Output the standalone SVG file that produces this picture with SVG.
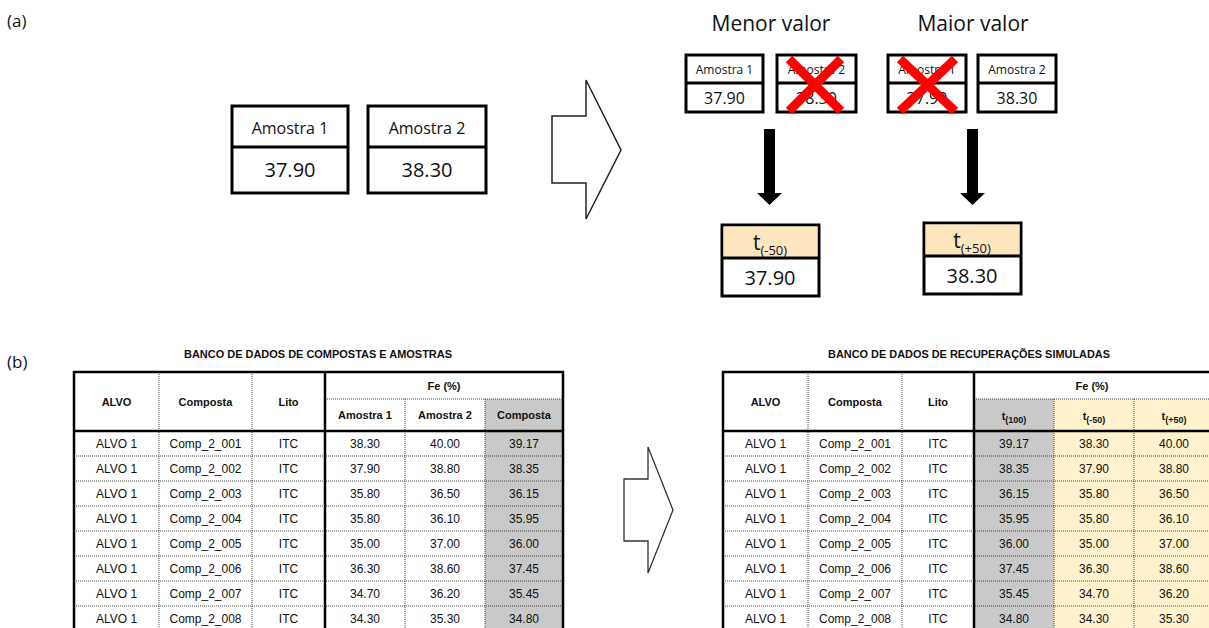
<svg xmlns="http://www.w3.org/2000/svg" width="1209" height="628" viewBox="0 0 1209 628">
<style>
.lbl{font-family:"Open Sans","Liberation Sans",sans-serif;fill:#111}
.box{fill:#fff;stroke:#000;stroke-width:3}
.div{stroke:#000;stroke-width:3}
.hdr{fill:#fce6be}
.x{stroke:#f00;stroke-width:9;stroke-linecap:butt}
.tb{font-family:"Liberation Sans",Arial,sans-serif;fill:#111;font-size:12px;text-anchor:middle}
.th{font-family:"Liberation Sans",Arial,sans-serif;fill:#111;font-size:11px;font-weight:bold;text-anchor:middle}
.dot{stroke:#444;stroke-width:1;stroke-dasharray:1 1;fill:none}
.thick{stroke:#000;stroke-width:2.5;fill:none}
.gray{fill:#c9c9c9}
.yel{fill:#fff2cc}
</style>
<rect width="1209" height="628" fill="#fff"/>
<text class="lbl" x="7" y="27" font-size="17">(a)</text>
<text class="lbl" x="7" y="368" font-size="17">(b)</text>

<g id="amostra1">
<rect class="box" x="232" y="106" width="116" height="87"/>
<line class="div" x1="232" y1="147" x2="348" y2="147"/>
<text class="lbl" x="290" y="134" font-size="16" text-anchor="middle">Amostra 1</text>
<text class="lbl" x="290" y="177" font-size="20" text-anchor="middle">37.90</text>
</g>
<g id="amostra2">
<rect class="box" x="368" y="106" width="118" height="87"/>
<line class="div" x1="368" y1="147" x2="486" y2="147"/>
<text class="lbl" x="427" y="134" font-size="16" text-anchor="middle">Amostra 2</text>
<text class="lbl" x="427" y="177" font-size="20" text-anchor="middle">38.30</text>
</g>

<text class="lbl" x="771" y="31" font-size="21" text-anchor="middle">Menor valor</text>
<text class="lbl" x="973" y="31" font-size="21" text-anchor="middle">Maior valor</text>

<g id="menor-a1">
<rect class="box" x="686" y="55" width="77" height="57"/>
<line class="div" x1="686" y1="83" x2="763" y2="83"/>
<text class="lbl" x="724.5" y="74" font-size="12" text-anchor="middle">Amostra 1</text>
<text class="lbl" x="724.5" y="104" font-size="16" text-anchor="middle">37.90</text>
</g>
<g id="menor-a2">
<rect class="box" x="777" y="55" width="79" height="57"/>
<line class="div" x1="777" y1="83" x2="856" y2="83"/>
<text class="lbl" x="816.5" y="74" font-size="12" text-anchor="middle">Amostra 2</text>
<text class="lbl" x="816.5" y="104" font-size="16" text-anchor="middle">38.30</text>
<line class="x" x1="789" y1="59" x2="841" y2="111"/>
<line class="x" x1="841" y1="59" x2="789" y2="111"/>
</g>
<g id="maior-a1">
<rect class="box" x="888" y="55" width="78" height="57"/>
<line class="div" x1="888" y1="83" x2="966" y2="83"/>
<text class="lbl" x="927" y="74" font-size="12" text-anchor="middle">Amostra 1</text>
<text class="lbl" x="927" y="104" font-size="16" text-anchor="middle">37.90</text>
<line class="x" x1="900" y1="59" x2="955" y2="111"/>
<line class="x" x1="955" y1="59" x2="900" y2="111"/>
</g>
<g id="maior-a2">
<rect class="box" x="978" y="55" width="78" height="57"/>
<line class="div" x1="978" y1="83" x2="1056" y2="83"/>
<text class="lbl" x="1017" y="74" font-size="12" text-anchor="middle">Amostra 2</text>
<text class="lbl" x="1017" y="104" font-size="16" text-anchor="middle">38.30</text>
</g>

<g id="t-50">
<rect class="box" x="722" y="225" width="97" height="71"/>
<rect class="hdr" x="723.5" y="226.5" width="94" height="31"/>
<line class="div" x1="722" y1="258" x2="819" y2="258"/>
<text class="lbl" x="770" y="250" font-size="21" text-anchor="middle">t<tspan font-size="13" dy="5">(-50)</tspan></text>
<text class="lbl" x="770" y="285" font-size="20" text-anchor="middle">37.90</text>
</g>
<g id="t+50">
<rect class="box" x="924" y="223" width="97" height="71"/>
<rect class="hdr" x="925.5" y="224.5" width="94" height="31"/>
<line class="div" x1="924" y1="256" x2="1021" y2="256"/>
<text class="lbl" x="972" y="248" font-size="21" text-anchor="middle">t<tspan font-size="13" dy="5">(+50)</tspan></text>
<text class="lbl" x="972" y="283" font-size="20" text-anchor="middle">38.30</text>
</g>

<g id="connectors">
<polygon points="552,116 586,116 586,80 621,150 586,219 586,183 552,183" fill="#fff" stroke="#222" stroke-width="1.5" stroke-linejoin="miter"/>
<polygon points="764,129 775,129 775,193 782,193 769.5,205 757,193 764,193" fill="#000"/>
<polygon points="967,129 978,129 978,193 985,193 972.5,205 960,193 967,193" fill="#000"/>
<polygon points="624,479 648,479 648,447 673,510 648,573 648,541 624,541" fill="#fff" stroke="#333" stroke-width="1.3"/>
</g>

<g id="table-left">
<text class="th" x="318" y="358" textLength="268" lengthAdjust="spacingAndGlyphs">BANCO DE DADOS DE COMPOSTAS E AMOSTRAS</text>
<rect class="gray" x="485" y="399" width="78" height="240"/>
<line class="dot" x1="159" y1="372" x2="159" y2="640"/>
<line class="dot" x1="252" y1="372" x2="252" y2="640"/>
<line class="dot" x1="405" y1="399" x2="405" y2="640"/>
<line class="dot" x1="485" y1="399" x2="485" y2="640"/>
<line class="dot" x1="325" y1="399" x2="563" y2="399"/>
<g class="dot">
<line x1="74" y1="456" x2="563" y2="456"/><line x1="74" y1="481" x2="563" y2="481"/><line x1="74" y1="506" x2="563" y2="506"/><line x1="74" y1="531" x2="563" y2="531"/><line x1="74" y1="556" x2="563" y2="556"/><line x1="74" y1="581" x2="563" y2="581"/><line x1="74" y1="606" x2="563" y2="606"/>
</g>
<path class="thick" d="M74,640 V372 H563 V640 M74,431 H563 M325,372 V640"/>
<text class="th" x="116.5" y="406">ALVO</text>
<text class="th" x="205.5" y="406">Composta</text>
<text class="th" x="288.5" y="406">Lito</text>
<text class="th" x="444" y="390">Fe (%)</text>
<text class="th" x="365" y="419">Amostra 1</text>
<text class="th" x="445" y="419">Amostra 2</text>
<text class="th" x="524" y="419">Composta</text>
<g class="tb">
<text x="116.5" y="448">ALVO 1</text><text x="205.5" y="448">Comp_2_001</text><text x="288.5" y="448">ITC</text><text x="365" y="448">38.30</text><text x="445" y="448">40.00</text><text x="524" y="448">39.17</text>
<text x="116.5" y="473">ALVO 1</text><text x="205.5" y="473">Comp_2_002</text><text x="288.5" y="473">ITC</text><text x="365" y="473">37.90</text><text x="445" y="473">38.80</text><text x="524" y="473">38.35</text>
<text x="116.5" y="498">ALVO 1</text><text x="205.5" y="498">Comp_2_003</text><text x="288.5" y="498">ITC</text><text x="365" y="498">35.80</text><text x="445" y="498">36.50</text><text x="524" y="498">36.15</text>
<text x="116.5" y="523">ALVO 1</text><text x="205.5" y="523">Comp_2_004</text><text x="288.5" y="523">ITC</text><text x="365" y="523">35.80</text><text x="445" y="523">36.10</text><text x="524" y="523">35.95</text>
<text x="116.5" y="548">ALVO 1</text><text x="205.5" y="548">Comp_2_005</text><text x="288.5" y="548">ITC</text><text x="365" y="548">35.00</text><text x="445" y="548">37.00</text><text x="524" y="548">36.00</text>
<text x="116.5" y="573">ALVO 1</text><text x="205.5" y="573">Comp_2_006</text><text x="288.5" y="573">ITC</text><text x="365" y="573">36.30</text><text x="445" y="573">38.60</text><text x="524" y="573">37.45</text>
<text x="116.5" y="598">ALVO 1</text><text x="205.5" y="598">Comp_2_007</text><text x="288.5" y="598">ITC</text><text x="365" y="598">34.70</text><text x="445" y="598">36.20</text><text x="524" y="598">35.45</text>
<text x="116.5" y="623">ALVO 1</text><text x="205.5" y="623">Comp_2_008</text><text x="288.5" y="623">ITC</text><text x="365" y="623">34.30</text><text x="445" y="623">35.30</text><text x="524" y="623">34.80</text>
</g>
</g>

<g id="table-right">
<text class="th" x="969" y="358" textLength="282" lengthAdjust="spacingAndGlyphs">BANCO DE DADOS DE RECUPERAÇÕES SIMULADAS</text>
<rect class="gray" x="974" y="399" width="80" height="240"/>
<rect class="yel" x="1054" y="399" width="160" height="240"/>
<line class="dot" x1="808" y1="372" x2="808" y2="640"/>
<line class="dot" x1="902" y1="372" x2="902" y2="640"/>
<line class="dot" x1="1054" y1="399" x2="1054" y2="640"/>
<line class="dot" x1="1134" y1="399" x2="1134" y2="640"/>
<line class="dot" x1="974" y1="399" x2="1214" y2="399"/>
<g class="dot">
<line x1="723" y1="456" x2="1214" y2="456"/><line x1="723" y1="481" x2="1214" y2="481"/><line x1="723" y1="506" x2="1214" y2="506"/><line x1="723" y1="531" x2="1214" y2="531"/><line x1="723" y1="556" x2="1214" y2="556"/><line x1="723" y1="581" x2="1214" y2="581"/><line x1="723" y1="606" x2="1214" y2="606"/>
</g>
<path class="thick" d="M723,640 V372 H1214 M723,431 H1214 M974,372 V640"/>
<text class="th" x="765.5" y="406">ALVO</text>
<text class="th" x="855" y="406">Composta</text>
<text class="th" x="938" y="406">Lito</text>
<text class="th" x="1092" y="390">Fe (%)</text>
<text class="th" x="1014" y="420" font-size="17" font-weight="normal">t<tspan font-size="9" font-weight="bold" dy="3">(100)</tspan></text>
<text class="th" x="1094" y="420" font-size="17" font-weight="normal">t<tspan font-size="9" font-weight="bold" dy="3">(-50)</tspan></text>
<text class="th" x="1174" y="420" font-size="17" font-weight="normal">t<tspan font-size="9" font-weight="bold" dy="3">(+50)</tspan></text>
<g class="tb">
<text x="765.5" y="448">ALVO 1</text><text x="855" y="448">Comp_2_001</text><text x="938" y="448">ITC</text><text x="1014" y="448">39.17</text><text x="1094" y="448">38.30</text><text x="1174" y="448">40.00</text>
<text x="765.5" y="473">ALVO 1</text><text x="855" y="473">Comp_2_002</text><text x="938" y="473">ITC</text><text x="1014" y="473">38.35</text><text x="1094" y="473">37.90</text><text x="1174" y="473">38.80</text>
<text x="765.5" y="498">ALVO 1</text><text x="855" y="498">Comp_2_003</text><text x="938" y="498">ITC</text><text x="1014" y="498">36.15</text><text x="1094" y="498">35.80</text><text x="1174" y="498">36.50</text>
<text x="765.5" y="523">ALVO 1</text><text x="855" y="523">Comp_2_004</text><text x="938" y="523">ITC</text><text x="1014" y="523">35.95</text><text x="1094" y="523">35.80</text><text x="1174" y="523">36.10</text>
<text x="765.5" y="548">ALVO 1</text><text x="855" y="548">Comp_2_005</text><text x="938" y="548">ITC</text><text x="1014" y="548">36.00</text><text x="1094" y="548">35.00</text><text x="1174" y="548">37.00</text>
<text x="765.5" y="573">ALVO 1</text><text x="855" y="573">Comp_2_006</text><text x="938" y="573">ITC</text><text x="1014" y="573">37.45</text><text x="1094" y="573">36.30</text><text x="1174" y="573">38.60</text>
<text x="765.5" y="598">ALVO 1</text><text x="855" y="598">Comp_2_007</text><text x="938" y="598">ITC</text><text x="1014" y="598">35.45</text><text x="1094" y="598">34.70</text><text x="1174" y="598">36.20</text>
<text x="765.5" y="623">ALVO 1</text><text x="855" y="623">Comp_2_008</text><text x="938" y="623">ITC</text><text x="1014" y="623">34.80</text><text x="1094" y="623">34.30</text><text x="1174" y="623">35.30</text>
</g>
</g>
</svg>
